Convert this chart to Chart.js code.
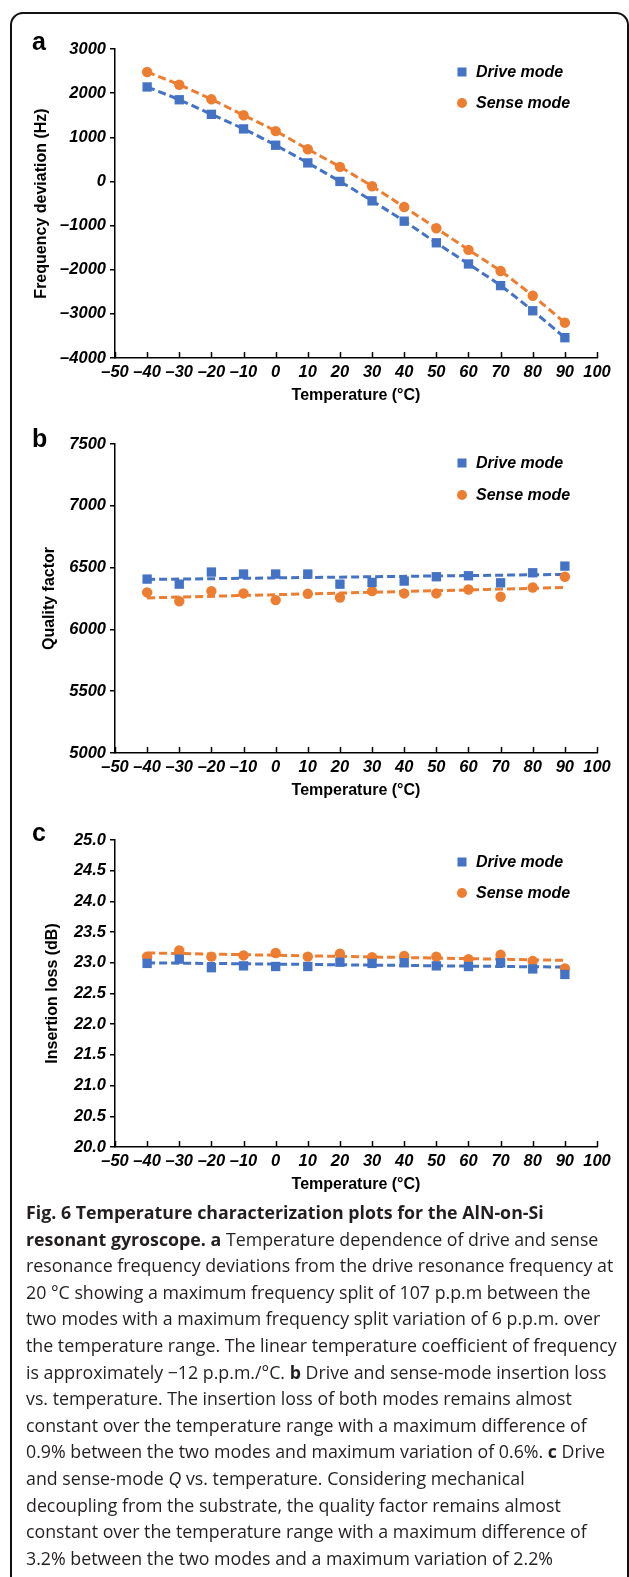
<!DOCTYPE html>
<html>
<head>
<meta charset="utf-8">
<script src="https://cdn.jsdelivr.net/npm/chart.js@4.4.1/dist/chart.umd.min.js"></script>
<style>
html, body { margin: 0; padding: 0; background: #fff; }
body { width: 629px; height: 1577px; position: relative; overflow: hidden; }
#frame { position: absolute; left: 10px; top: 12px; width: 619px; height: 1700px;
         border: 2px solid #111; border-radius: 13px; box-sizing: border-box; }
canvas { position: absolute; left: 0; }
#cap { position: absolute; left: 26px; top: 1199px; font-family: "Open Sans", sans-serif;
       font-size: 17.8px; line-height: 26.6px; color: #231f20; white-space: nowrap; }
#cap b { font-weight: 700; }
</style>
</head>
<body>
<div id="frame"></div>
<canvas id="c-a"></canvas>
<canvas id="c-b"></canvas>
<canvas id="c-c"></canvas>
<div id="cap">
<div><b>Fig. 6 Temperature characterization plots for the AlN-on-Si</b></div>
<div><b>resonant gyroscope. a</b> Temperature dependence of drive and sense</div>
<div>resonance frequency deviations from the drive resonance frequency at</div>
<div>20 °C showing a maximum frequency split of 107 p.p.m between the</div>
<div>two modes with a maximum frequency split variation of 6 p.p.m. over</div>
<div>the temperature range. The linear temperature coefficient of frequency</div>
<div>is approximately −12 p.p.m./°C. <b>b</b> Drive and sense-mode insertion loss</div>
<div>vs. temperature. The insertion loss of both modes remains almost</div>
<div>constant over the temperature range with a maximum difference of</div>
<div>0.9% between the two modes and maximum variation of 0.6%. <b>c</b> Drive</div>
<div>and sense-mode <i>Q</i> vs. temperature. Considering mechanical</div>
<div>decoupling from the substrate, the quality factor remains almost</div>
<div>constant over the temperature range with a maximum difference of</div>
<div>3.2% between the two modes and a maximum variation of 2.2%</div>
</div>
<script>
// temperatures (°C) shared by all three panels
const TEMP = [-40, -30, -20, -10, 0, 10, 20, 30, 40, 50, 60, 70, 80, 90];

// (a) frequency deviation, Hz
const FREQ_DRIVE = [2140, 1850, 1520, 1190, 820, 420, 0, -440, -900, -1390, -1870, -2360, -2930, -3540];
const FREQ_SENSE = [2480, 2190, 1860, 1500, 1140, 730, 330, -110, -580, -1060, -1550, -2030, -2590, -3200];

// (b) quality factor
const Q_DRIVE = [6407, 6366, 6464, 6448, 6448, 6448, 6366, 6380, 6391, 6426, 6434, 6377, 6458, 6512];
const Q_SENSE = [6299, 6228, 6310, 6291, 6237, 6288, 6258, 6310, 6291, 6291, 6323, 6264, 6339, 6426];

// (c) insertion loss, dB
const IL_DRIVE = [22.99, 23.06, 22.92, 22.95, 22.94, 22.94, 23.01, 22.99, 23.00, 22.95, 22.94, 23.00, 22.90, 22.81];
const IL_SENSE = [23.10, 23.20, 23.10, 23.12, 23.16, 23.10, 23.15, 23.09, 23.11, 23.10, 23.06, 23.13, 23.03, 22.91];

// linear fit lines in (b) and (c), read at the two ends
const FIT_T = [-40, 90];
const Q_DRIVE_FIT = [6404, 6445];
const Q_SENSE_FIT = [6255, 6339];
const IL_DRIVE_FIT = [23.00, 22.93];
const IL_SENSE_FIT = [23.16, 23.04];

const DRIVE = '#4472c4', SENSE = '#ed7d31';
const FONT = '"Liberation Sans", Arial, Helvetica, sans-serif';
const W = 629, AX_LEFT = 115, AX_RIGHT = 597;

const xy = (xs, ys) => xs.map((x, i) => ({ x, y: ys[i] }));
const dash = v => v < 0 ? '–' + Math.abs(v) : String(v);

// inward x ticks, legend and panel letter
const deco = {
  id: 'deco',
  afterDraw(chart, args, o) {
    const { ctx, chartArea: ca, scales: { x } } = chart;
    ctx.save();
    ctx.strokeStyle = '#000'; ctx.lineWidth = 1.5;
    x.ticks.forEach(t => {
      const px = Math.round(x.getPixelForValue(t.value)) + 0.5;
      ctx.beginPath(); ctx.moveTo(px, ca.bottom); ctx.lineTo(px, ca.bottom - 6); ctx.stroke();
    });
    chart.data.datasets.slice(0, 2).forEach((ds, i) => {
      const y = o.legendY[i] - o.top, mx = 462;
      ctx.fillStyle = ds.backgroundColor;
      if (ds.pointStyle === 'rect') ctx.fillRect(mx - 4.5, y - 4.5, 9, 9);
      else { ctx.beginPath(); ctx.arc(mx, y, 5, 0, Math.PI * 2); ctx.fill(); }
      ctx.fillStyle = '#000';
      ctx.font = 'italic bold 16px ' + FONT;
      ctx.textBaseline = 'middle';
      ctx.fillText(ds.label, 476, y + 1);
    });
    ctx.font = 'bold 25px ' + FONT;
    ctx.textBaseline = 'alphabetic';
    ctx.fillText(o.letter, 32, o.letterY - o.top);
    ctx.restore();
  }
};

function panel(id, p) {
  const cv = document.getElementById(id);
  cv.style.top = p.top + 'px';
  cv.width = W; cv.height = p.h;
  const xH = p.h - (p.bottom - p.top);
  return new Chart(cv, {
    type: 'scatter',
    data: { datasets: [
      { label: 'Drive mode', data: p.drive, pointStyle: 'rect', pointRadius: 6.6,
        backgroundColor: DRIVE, borderWidth: 0 },
      { label: 'Sense mode', data: p.sense, pointStyle: 'circle', pointRadius: 5.2,
        backgroundColor: SENSE, borderWidth: 0 },
      { data: p.driveFit, showLine: true, pointRadius: 0, borderColor: DRIVE,
        borderWidth: 3, borderDash: [8, 4], cubicInterpolationMode: 'monotone' },
      { data: p.senseFit, showLine: true, pointRadius: 0, borderColor: SENSE,
        borderWidth: 3, borderDash: [8, 4], cubicInterpolationMode: 'monotone' },
    ]},
    options: {
      responsive: false, animation: false, devicePixelRatio: 1,
      layout: { padding: { top: p.areaTop - p.top, right: W - AX_RIGHT, left: 0, bottom: 0 } },
      plugins: { legend: { display: false }, tooltip: { enabled: false },
                 deco: { top: p.top, legendY: p.legendY, letter: p.letter, letterY: p.letterY } },
      scales: {
        x: {
          type: 'linear', min: -50, max: 100,
          afterFit: s => { s.height = xH; },
          grid: { display: false, drawTicks: false },
          border: { display: true, color: '#000', width: 1.5 },
          ticks: { stepSize: 10, autoSkip: false, maxRotation: 0, minRotation: 0, padding: 5,
                   color: '#000', font: { family: FONT, size: 16.5, weight: 'bold', style: 'italic' },
                   callback: dash },
          title: { display: true, text: 'Temperature (°C)', color: '#000',
                   font: { family: FONT, size: 16, weight: 'bold' }, padding: { top: 0, bottom: 14.4 } },
        },
        y: {
          min: p.yMin, max: p.yMax,
          afterFit: s => { s.width = AX_LEFT; },
          grid: { display: true, drawOnChartArea: false, drawTicks: true, tickLength: 5,
                  color: '#000', lineWidth: 1.5 },
          border: { display: true, color: '#000', width: 1.5 },
          ticks: { stepSize: p.yStep, padding: 4, color: '#000',
                   font: { family: FONT, size: 16.5, weight: 'bold', style: 'italic' },
                   callback: p.yFmt },
          title: { display: true, text: p.yTitle, color: '#000',
                   font: { family: FONT, size: 16, weight: 'bold' }, padding: { top: p.yTitlePad, bottom: 0 } },
        },
      },
    },
    plugins: [deco],
  });
}

panel('c-a', {
  top: 0, h: 420, areaTop: 49, bottom: 358,
  drive: xy(TEMP, FREQ_DRIVE), sense: xy(TEMP, FREQ_SENSE),
  driveFit: xy(TEMP, FREQ_DRIVE), senseFit: xy(TEMP, FREQ_SENSE),
  yMin: -4000, yMax: 3000, yStep: 1000, yFmt: dash,
  yTitle: 'Frequency deviation (Hz)', yTitlePad: 32,
  legendY: [72, 103], letter: 'a', letterY: 50,
});

panel('c-b', {
  top: 410, h: 405, areaTop: 444, bottom: 753,
  drive: xy(TEMP, Q_DRIVE), sense: xy(TEMP, Q_SENSE),
  driveFit: xy(FIT_T, Q_DRIVE_FIT), senseFit: xy(FIT_T, Q_SENSE_FIT),
  yMin: 5000, yMax: 7500, yStep: 500, yFmt: v => String(v),
  yTitle: 'Quality factor', yTitlePad: 40,
  legendY: [463, 495], letter: 'b', letterY: 447,
});

panel('c-c', {
  top: 810, h: 399, areaTop: 840, bottom: 1147,
  drive: xy(TEMP, IL_DRIVE), sense: xy(TEMP, IL_SENSE),
  driveFit: xy(FIT_T, IL_DRIVE_FIT), senseFit: xy(FIT_T, IL_SENSE_FIT),
  yMin: 20, yMax: 25, yStep: 0.5, yFmt: v => v.toFixed(1),
  yTitle: 'Insertion loss (dB)', yTitlePad: 43,
  legendY: [862, 893], letter: 'c', letterY: 841,
});
</script>
</body>
</html>
